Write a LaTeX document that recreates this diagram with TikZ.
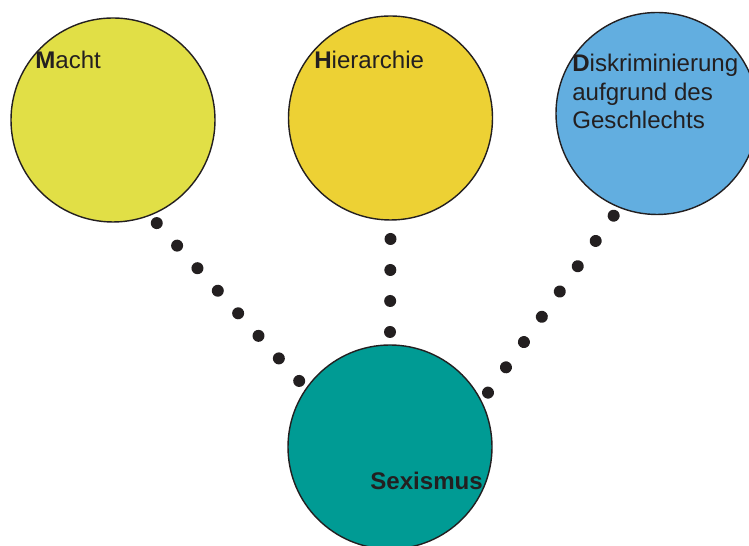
\documentclass[tikz,border=0pt]{standalone}
\usepackage{fontspec}
\setmainfont{Liberation Sans}
\usepackage{xcolor}
\usepackage{tikz}
\usetikzlibrary{decorations.markings, calc}
\definecolor{figY}{RGB}{225,223,70}
\definecolor{figO}{RGB}{237,209,52}
\definecolor{figB}{RGB}{98,174,224}
\definecolor{figT}{RGB}{0,155,148}
\definecolor{figK}{RGB}{35,31,32}
\tikzset{ball/.style={circle, draw=figK, line width=0.8pt, minimum size=4.08cm, inner sep=0pt, outer sep=0.2cm},
  lbl/.style={anchor=base west, inner sep=0pt, text=figK, font=\fontsize{13.7}{16.1}\selectfont, align=left},
  dotlink/.style={decoration={markings, mark=between positions 0 and 1 step #1 with {\fill[figK] (0,0) circle (0.12);}}, postaction={decorate}}}

\begin{document}
\begin{tikzpicture}
\useasboundingbox (0,0) rectangle (14.98,10.92);
% the four circles
\node[ball, fill=figY] (macht) at (2.26,8.52) {};
\node[ball, fill=figO] (hier) at (7.81,8.56) {};
\node[ball, fill=figB, minimum size=4.04cm] (diskr) at (13.14,8.65) {};
\node[ball, fill=figT] (sex) at (7.80,1.98) {};
% labels
\node[lbl] (machtlbl) at (0.70,9.55) {\textbf{M}acht};
\node[lbl] (hierlbl) at (6.28,9.55) {\textbf{H}ierarchie};
\node[lbl] (diskrlbl) at (11.44,8.35) {\textbf{D}iskriminierung\\aufgrund des\\Geschlechts};
\node[lbl] (sexlbl) at (7.40,1.12) {\textbf{Sexismus}};
% dotted links
\path[dotlink=0.1428] (macht.-67) -- (sex.144);
\path[dotlink=0.3333] ($(hier.south)+(0,-0.18)$) -- ($(sex.north)+(0,0.06)$);
\path[dotlink=0.1428] (diskr.-113) -- (sex.29);
\end{tikzpicture}
\end{document}
